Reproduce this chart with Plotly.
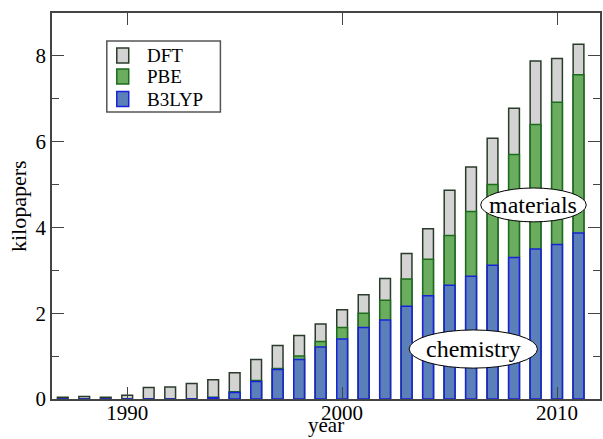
import plotly.graph_objects as go

years = list(range(1987, 2012))
dft = [0.04, 0.06, 0.04, 0.09, 0.27, 0.28, 0.36, 0.45, 0.61, 0.92, 1.25, 1.48,
       1.75, 2.08, 2.43, 2.81, 3.39, 3.97, 4.87, 5.41, 6.08, 6.78, 7.88, 7.94, 8.27]
pbe = [0, 0, 0, 0, 0, 0, 0, 0.04, 0.17, 0.43, 0.71, 1.00,
       1.34, 1.67, 2.00, 2.30, 2.80, 3.26, 3.81, 4.37, 5.00, 5.70, 6.40, 6.92, 7.56]
b3lyp = [0, 0, 0, 0, 0, 0, 0, 0.03, 0.15, 0.41, 0.69, 0.92,
         1.21, 1.40, 1.67, 1.84, 2.16, 2.41, 2.65, 2.86, 3.12, 3.30, 3.50, 3.60, 3.87]
series_names = ["DFT", "PBE", "B3LYP"]

FONT = "Liberation Serif"
FILLS = ["#d3d3d3", "#6aad5e", "#5b7fb8"]
EDGES = ["#2b3b2b", "#1d6b1d", "#1a22d8"]

fig = go.Figure()
for name, vals, fc, ec in zip(series_names, [dft, pbe, b3lyp], FILLS, EDGES):
    fig.add_trace(go.Bar(x=years, y=vals, name=name, width=0.5, showlegend=False,
                         marker=dict(color=fc, line=dict(color=ec, width=1.5))))

fig.update_layout(
    barmode="overlay",
    width=603, height=439,
    margin=dict(l=52, r=1, t=13, b=40),
    paper_bgcolor="white", plot_bgcolor="white",
    font=dict(family=FONT, size=20, color="black"),
    showlegend=False,
    xaxis=dict(range=[1986.5, 2012], tickvals=[1990, 2000, 2010],
               ticks="inside", ticklen=12, tickwidth=1.2, tickcolor="#444",
               showline=True, linecolor="#444", linewidth=1.5, mirror="ticks",
               showgrid=False, zeroline=False, ticklabelstandoff=-6,
               tickfont=dict(family=FONT, size=21, color="black")),
    yaxis=dict(range=[0, 9], tickvals=[0, 2, 4, 6, 8],
               ticks="inside", ticklen=12, tickwidth=1.2, tickcolor="#444",
               showline=True, linecolor="#444", linewidth=1.5, mirror="ticks",
               showgrid=False, zeroline=False,
               minor=dict(tickvals=[1, 3, 5, 7], ticks="inside", ticklen=7,
                          tickcolor="#444", tickwidth=1.2, showgrid=False),
               tickfont=dict(family=FONT, size=21, color="black")),
)

# axis titles
fig.add_annotation(xref="paper", yref="paper", x=0.5, y=0, yshift=-40,
                   xanchor="center", yanchor="bottom", text="year", showarrow=False,
                   font=dict(family=FONT, size=21, color="black"))
fig.add_annotation(xref="paper", yref="paper", x=0, y=0.5, xshift=-34,
                   xanchor="center", yanchor="middle", text="kilopapers", textangle=-90,
                   showarrow=False, font=dict(family=FONT, size=22, color="black"))

# legend box (drawn by hand to match the compact original)
fig.add_shape(type="rect", xref="paper", yref="paper", x0=0.1, x1=0.3073,
              y0=0.7435, y1=0.9275, fillcolor="white",
              line=dict(color="#555555", width=1.5), layer="above")
sw_y = [(0.8705, 0.9093), (0.8161, 0.8549), (0.7578, 0.7966)]
txt_y = [0.8899, 0.8342, 0.7759]
for name, fc, ec, (y0, y1), ty in zip(series_names, FILLS, EDGES, sw_y, txt_y):
    fig.add_shape(type="rect", xref="paper", yref="paper", x0=0.1182, x1=0.1400,
                  y0=y0, y1=y1, fillcolor=fc, line=dict(color=ec, width=1.5),
                  layer="above")
    fig.add_annotation(xref="paper", yref="paper", x=0.1691, y=ty, text=name,
                       xanchor="left", yanchor="middle", showarrow=False,
                       font=dict(family=FONT, size=19, color="black"))

# region labels
fig.add_shape(type="circle", xref="x", yref="y",
              x0=2006.45, x1=2011.36, y0=4.13, y1=4.92,
              fillcolor="white", line=dict(color="black", width=1), layer="above")
fig.add_annotation(x=2008.9, y=4.52, text="materials", showarrow=False,
                   font=dict(family=FONT, size=24, color="black"))
fig.add_shape(type="circle", xref="x", yref="y",
              x0=2003.12, x1=2009.09, y0=0.72, y1=1.61,
              fillcolor="white", line=dict(color="black", width=1), layer="above")
fig.add_annotation(x=2006.1, y=1.16, text="chemistry", showarrow=False,
                   font=dict(family=FONT, size=24, color="black"))

fig.write_html("out.html", config={"displayModeBar": False},
               post_script="document.body.style.margin='0';document.body.style.overflow='hidden';")
